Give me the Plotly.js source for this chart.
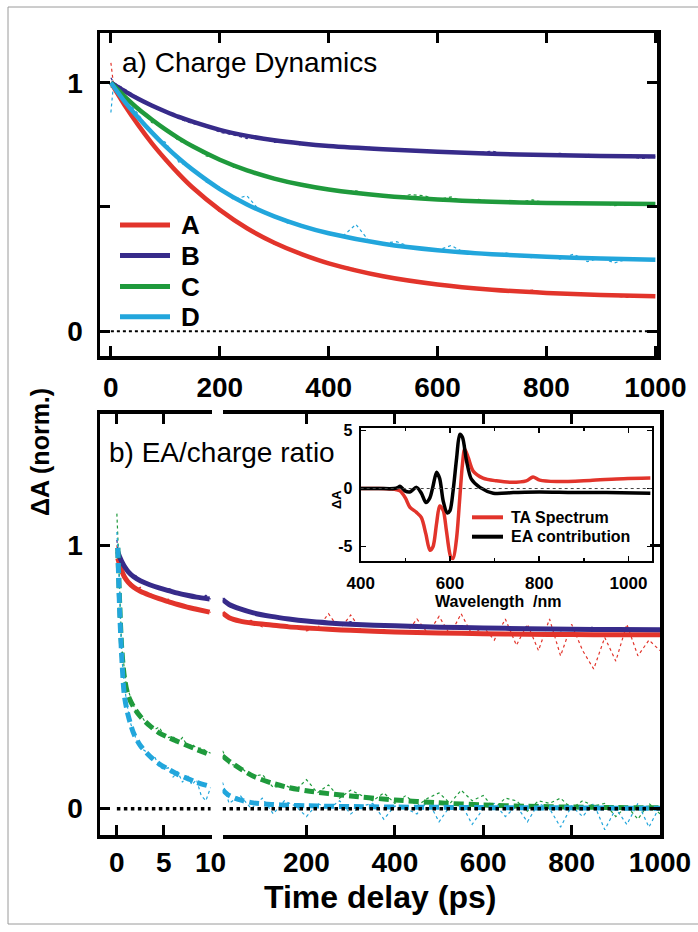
<!DOCTYPE html>
<html><head><meta charset="utf-8">
<script src="https://cdn.plot.ly/plotly-3.0.1.min.js"></script>
<style>html,body{margin:0;padding:0;background:#fff;} #chart{width:698px;height:932px;}</style>
</head><body><div id="chart"></div>
<script>
// ---------- Panel a) Charge Dynamics ----------
const tFitTop = [0,25,50,75,100,125,150,200,250,300,350,400,500,600,700,800,900,1000];
const fitA = [1,0.91,0.83,0.757,0.692,0.632,0.578,0.488,0.414,0.356,0.31,0.273,0.221,0.188,0.167,0.154,0.146,0.14];
const fitB = [1,0.966,0.935,0.908,0.884,0.862,0.843,0.81,0.786,0.768,0.755,0.745,0.732,0.722,0.714,0.709,0.705,0.703];
const fitC = [1,0.945,0.895,0.852,0.812,0.776,0.744,0.69,0.647,0.614,0.589,0.57,0.545,0.53,0.521,0.516,0.514,0.512];
const fitD = [1,0.925,0.86,0.80,0.745,0.695,0.65,0.572,0.51,0.462,0.424,0.394,0.352,0.326,0.31,0.299,0.292,0.287];

const tDataTop = [0,5,25,50,75,100,125,150,175,200,225,250,275,300,325,350,375,400,425,450,475,500,525,550,575,600,625,650,675,700,725,750,775,800,825,850,875,900,925,950,975,1000];
const dataA = [1.08,0.99,0.915,0.825,0.76,0.685,0.64,0.57,0.535,0.48,0.455,0.41,0.385,0.35,0.335,0.305,0.295,0.27,0.262,0.25,0.23,0.225,0.21,0.205,0.193,0.19,0.18,0.178,0.17,0.168,0.162,0.16,0.165,0.153,0.15,0.152,0.146,0.147,0.14,0.136,0.142,0.14];
const dataB = [1.02,1.0,0.975,0.94,0.905,0.885,0.855,0.835,0.83,0.80,0.79,0.775,0.78,0.76,0.765,0.748,0.752,0.742,0.745,0.735,0.74,0.728,0.735,0.726,0.73,0.718,0.725,0.716,0.718,0.725,0.71,0.714,0.71,0.712,0.716,0.705,0.712,0.705,0.704,0.703,0.695,0.702];
const dataC = [0.98,1.0,0.935,0.9,0.84,0.815,0.765,0.75,0.705,0.695,0.66,0.65,0.625,0.618,0.595,0.59,0.58,0.572,0.56,0.565,0.548,0.548,0.535,0.55,0.545,0.53,0.54,0.52,0.53,0.52,0.525,0.52,0.528,0.515,0.52,0.512,0.51,0.518,0.505,0.513,0.515,0.51];
const dataD = [0.88,1.0,0.935,0.875,0.79,0.76,0.68,0.655,0.6,0.58,0.53,0.545,0.48,0.46,0.435,0.43,0.405,0.40,0.38,0.43,0.36,0.355,0.36,0.34,0.335,0.325,0.345,0.315,0.31,0.305,0.315,0.30,0.296,0.3,0.29,0.31,0.28,0.295,0.275,0.29,0.285,0.287];

// ---------- Panel b) EA/charge ratio : 0-10 ps segment ----------
const tFitL = [0.1,0.3,0.5,0.8,1.2,1.8,2.5,3.5,4.5,5.5,6.5,7.5,8.5,9.9];
const rFitA_L = [0.95,0.925,0.905,0.88,0.86,0.84,0.825,0.81,0.797,0.786,0.775,0.765,0.757,0.746];
const rFitB_L = [0.975,0.955,0.94,0.92,0.9,0.88,0.865,0.85,0.838,0.828,0.818,0.81,0.803,0.796];
const rFitC_L = [0.99,0.78,0.62,0.50,0.43,0.385,0.35,0.315,0.288,0.27,0.255,0.24,0.225,0.205];
const rFitD_L = [0.99,0.75,0.59,0.43,0.355,0.285,0.24,0.2,0.17,0.15,0.13,0.115,0.1,0.085];

const tDataL = [0,0.2,0.5,1,1.5,2,2.5,3,3.5,4,4.5,5,5.5,6,6.5,7,7.5,8,8.5,9,9.5,10];
const rDataA_L = [1.0,0.93,0.9,0.87,0.86,0.83,0.84,0.81,0.82,0.80,0.80,0.79,0.795,0.78,0.78,0.765,0.77,0.76,0.758,0.755,0.75,0.745];
const rDataB_L = [1.02,0.96,0.94,0.91,0.89,0.885,0.87,0.855,0.85,0.845,0.83,0.835,0.825,0.82,0.815,0.815,0.805,0.81,0.80,0.80,0.81,0.795];
const rDataC_L = [1.12,0.95,0.62,0.47,0.42,0.37,0.36,0.33,0.32,0.3,0.31,0.28,0.27,0.275,0.25,0.27,0.24,0.245,0.23,0.23,0.22,0.21];
const rDataD_L = [1.05,0.92,0.58,0.41,0.32,0.27,0.23,0.22,0.19,0.2,0.16,0.15,0.155,0.12,0.14,0.1,0.13,0.09,0.11,0.05,0.03,0.08];

// ---------- Panel b) : 10-1000 ps segment ----------
const tFitR = [10,25,50,80,120,160,200,250,300,400,500,600,700,800,900,1000];
const rFitA_R = [0.743,0.725,0.712,0.704,0.697,0.69,0.686,0.681,0.677,0.671,0.667,0.664,0.662,0.661,0.66,0.66];
const rFitB_R = [0.794,0.775,0.758,0.743,0.73,0.72,0.712,0.705,0.70,0.694,0.689,0.686,0.683,0.681,0.68,0.679];
const rFitC_R = [0.2,0.18,0.152,0.123,0.098,0.08,0.068,0.057,0.048,0.033,0.022,0.014,0.009,0.006,0.004,0.003];
const rFitD_R = [0.072,0.05,0.033,0.022,0.016,0.013,0.011,0.009,0.008,0.006,0.005,0.004,0.003,0.003,0.002,0.002];

const tDataR = [10,25,50,75,100,125,150,175,200,225,250,275,300,325,350,375,400,425,450,475,500,525,550,575,600,625,650,675,700,725,750,775,800,825,850,875,900,925,950,975,1000];
const rDataA_R = [0.745,0.72,0.71,0.715,0.69,0.70,0.69,0.695,0.675,0.685,0.74,0.68,0.735,0.675,0.675,0.68,0.67,0.665,0.72,0.665,0.73,0.66,0.74,0.66,0.69,0.64,0.72,0.62,0.70,0.60,0.72,0.58,0.70,0.60,0.53,0.65,0.56,0.70,0.58,0.64,0.60];
const rDataB_R = [0.80,0.775,0.76,0.74,0.735,0.725,0.72,0.715,0.71,0.71,0.705,0.70,0.71,0.695,0.70,0.69,0.695,0.69,0.70,0.685,0.69,0.695,0.685,0.69,0.68,0.69,0.685,0.68,0.69,0.68,0.685,0.675,0.685,0.68,0.69,0.675,0.68,0.685,0.68,0.675,0.68];
const rDataC_R = [0.22,0.17,0.16,0.12,0.13,0.08,0.09,0.07,0.11,0.06,0.09,0.04,0.07,0.05,0.03,0.06,0.02,0.05,0.01,0.04,0.06,0.02,0.07,0.03,0.05,0.0,0.04,0.03,-0.01,0.03,0.02,0.04,0.0,0.03,0.01,0.02,-0.03,0.01,-0.04,0.02,-0.02];
const rDataD_R = [0.10,0.02,0.05,0.0,0.04,-0.02,0.03,0.01,-0.03,0.02,0.0,0.03,-0.02,0.01,0.02,-0.04,0.01,0.0,-0.02,0.03,-0.05,0.01,0.02,-0.06,0.0,0.02,-0.03,0.01,-0.05,0.02,0.0,-0.07,0.01,-0.03,0.02,-0.08,0.0,-0.06,0.02,-0.07,0.01];

// ---------- Inset spectra ----------
const wlTA = [400,440,470,480,488,500,510,525,536,546,555,562,570,577,585,592,602,607,615,622,628,633,641,652,674,704,734,771,786,801,839,914,989,1049];
const taSpec = [0,0,-0.05,-0.1,-0.2,-0.8,-1.6,-2.05,-2.5,-3.9,-5.3,-5.0,-3.0,-1.5,-1.9,-3.6,-5.9,-6.0,-4.2,-0.8,2.1,3.4,2.65,1.5,0.9,0.66,0.54,0.66,1.0,0.72,0.6,0.7,0.85,0.9];
const wlEA = [400,440,475,484,488,499,510,525,536,546,555,562,570,577,585,594,600,607,615,622,628,637,648,667,697,742,800,877,950,1049];
const eaSpec = [0,0,0,0.1,0.2,-0.2,-0.3,0.1,-0.4,-1.2,-0.8,0.2,1.4,0.85,-1.1,-2.1,-1.9,-0.2,2.65,4.65,4.4,2.4,0.8,0.1,-0.4,-0.35,-0.3,-0.35,-0.35,-0.4];

const seriesNames = ['A','B','C','D'];
const topTicks = [0,200,400,600,800,1000];
const legendTA = ['TA Spectrum','EA contribution'];

// ---------- build ----------
const W=698,H=932;
const PX=v=>v/W, PY=v=>1-v/H;
const FONT='Liberation Sans, Arial, Helvetica, sans-serif';
const COL={A:'#e2342b',B:'#372b8a',C:'#1f9a3c',D:'#22a6dc'};

const traces=[];
function dotted(x,y,c,xa,ya){traces.push({x,y,xaxis:xa,yaxis:ya,mode:'lines',line:{color:c,width:1.2,dash:'dot'},hoverinfo:'skip',showlegend:false});}
function fit(x,y,c,xa,ya,w,dash){traces.push({x,y,xaxis:xa,yaxis:ya,mode:'lines',line:{color:c,width:w,shape:'spline',smoothing:0.8,dash:dash||'solid'},hoverinfo:'skip',showlegend:false});}

// top
[[dataA,'A'],[dataB,'B'],[dataC,'C'],[dataD,'D']].forEach(([d,k])=>dotted(tDataTop,d,COL[k],'x','y'));
[[fitA,'A'],[fitB,'B'],[fitC,'C'],[fitD,'D']].forEach(([d,k])=>fit(tFitTop,d,COL[k],'x','y',4.5));
// bottom left
[[rDataA_L,'A'],[rDataB_L,'B'],[rDataC_L,'C'],[rDataD_L,'D']].forEach(([d,k])=>dotted(tDataL,d,COL[k],'x2','y2'));
fit(tFitL,rFitA_L,COL.A,'x2','y2',5); fit(tFitL,rFitB_L,COL.B,'x2','y2',5);
fit(tFitL,rFitC_L,COL.C,'x2','y2',5,'10px,5px'); fit(tFitL,rFitD_L,COL.D,'x2','y2',5,'10px,5px');
// bottom right
[[rDataA_R,'A'],[rDataB_R,'B'],[rDataC_R,'C'],[rDataD_R,'D']].forEach(([d,k])=>dotted(tDataR,d,COL[k],'x3','y3'));
fit(tFitR,rFitA_R,COL.A,'x3','y3',5); fit(tFitR,rFitB_R,COL.B,'x3','y3',5);
fit(tFitR,rFitC_R,COL.C,'x3','y3',5,'10px,5px'); fit(tFitR,rFitD_R,COL.D,'x3','y3',5,'10px,5px');
// inset
fit(wlTA,taSpec,'#e2342b','x4','y4',3.5);
fit(wlEA,eaSpec,'#000000','x4','y4',3.5);

function ax(o){return Object.assign({showline:true,linecolor:'#000',linewidth:3.5,ticks:'inside',ticklen:10,tickwidth:3,tickcolor:'#000',showgrid:false,zeroline:false,fixedrange:true,
  tickfont:{family:FONT,size:28,color:'#000',weight:'bold'}},o);}

const layout={
  width:W,height:H,margin:{l:0,r:0,t:0,b:0},paper_bgcolor:'#fff',plot_bgcolor:'rgba(0,0,0,0)',showlegend:false,
  xaxis:ax({domain:[PX(100),PX(657)],anchor:'y',range:[-20,1003],tickvals:topTicks,mirror:'ticks',ticklabelstandoff:4}),
  yaxis:ax({domain:[PY(356),PY(33)],anchor:'x',range:[-0.1,1.2],tickvals:[0,0.5,1],ticktext:['0','','1'],mirror:'ticks',ticklabelstandoff:8}),
  xaxis2:ax({domain:[PX(100),PX(211.5)],anchor:'y2',range:[-1.8,10.1],tickvals:[0,5,10],mirror:'ticks',ticklabelstandoff:0}),
  yaxis2:ax({domain:[PY(835),PY(413.5)],anchor:'x2',range:[-0.1,1.5],tickvals:[0,1],ticklabelstandoff:8}),
  xaxis3:ax({domain:[PX(222.5),PX(660)],anchor:'y3',range:[10,1000],tickvals:[200,400,600,800,1000],mirror:'ticks',ticklabelstandoff:0}),
  yaxis3:ax({domain:[PY(835),PY(413.5)],anchor:'x3',side:'right',range:[-0.1,1.5],tickvals:[0,1],showticklabels:false}),
  xaxis4:ax({domain:[PX(360.7),PX(651.7)],anchor:'y4',range:[400,1052],tickvals:[400,600,800,1000],mirror:'ticks',linewidth:2,ticklen:5,tickwidth:1.5,
     minor:{tickvals:[500,700,900],ticks:'inside',ticklen:3,tickwidth:1.5,tickcolor:'#000'},tickfont:{family:FONT,size:17,color:'#000',weight:'bold'},ticklabelstandoff:6}),
  yaxis4:ax({domain:[PY(560.7),PY(428)],anchor:'x4',range:[-6.2,5.2],tickvals:[-5,0,5],ticktext:['-5','0','5'],mirror:'ticks',linewidth:2,ticklen:5,tickwidth:1.5,
     tickfont:{family:FONT,size:16,color:'#000',weight:'bold'},ticklabelstandoff:3}),
  shapes:[
    {type:'line',xref:'x',yref:'y',x0:0,x1:1000,y0:0,y1:0,line:{color:'#000',width:2,dash:'dot'}},
    {type:'line',xref:'x2',yref:'y2',x0:0,x1:10,y0:0,y1:0,line:{color:'#000',width:3.5,dash:'dot'}},
    {type:'line',xref:'x3',yref:'y3',x0:10,x1:1000,y0:0,y1:0,line:{color:'#000',width:3.5,dash:'dot'}},
    {type:'line',xref:'x4',yref:'y4',x0:400,x1:1052,y0:0,y1:0,line:{color:'#444',width:1,dash:'dot'}},
    {type:'rect',xref:'paper',yref:'paper',x0:PX(8),x1:PX(710),y0:PY(924),y1:PY(7),line:{color:'#9a9a9a',width:1}},
  ],
  annotations:[]
};
const ann=(text,x,y,o)=>layout.annotations.push(Object.assign({text,x:PX(x),y:PY(y),xref:'paper',yref:'paper',showarrow:false,xanchor:'left',yanchor:'middle',
   font:{family:FONT,size:28,color:'#000'}},o||{}));
// legend (top panel)
const legY=[225,255.5,286.5,316.7];
seriesNames.forEach((n,i)=>{
  layout.shapes.push({type:'line',xref:'paper',yref:'paper',x0:PX(120),x1:PX(170),y0:PY(legY[i]),y1:PY(legY[i]),line:{color:COL[n],width:5}});
  ann(n,179,legY[i],{font:{family:FONT,size:26,color:'#000',weight:'bold'}});
});
// legend (inset)
const insY=[517.3,536.7], insC=['#e2342b','#000000'];
legendTA.forEach((n,i)=>{
  layout.shapes.push({type:'line',xref:'paper',yref:'paper',x0:PX(472),x1:PX(503),y0:PY(insY[i]),y1:PY(insY[i]),line:{color:insC[i],width:4}});
  ann(n,509,insY[i],{font:{family:FONT,size:16,color:'#000',weight:'bold'}});
});
ann('a) Charge Dynamics',120,62);
ann('b) EA/charge ratio',107,452);
ann('\u0394A',337,500,{xanchor:'center',textangle:-90,font:{family:FONT,size:13,color:'#000',weight:'bold'}});
ann('Wavelength\u00a0 /nm',498,601,{xanchor:'center',font:{family:FONT,size:16,color:'#000',weight:'bold'}});
ann('Time delay (ps)',380,897,{xanchor:'center',font:{family:FONT,size:32,color:'#000',weight:'bold'}});
ann('\u0394A (norm.)',40,452,{xanchor:'center',textangle:-90,font:{family:FONT,size:25,color:'#000',weight:'bold'}});

Plotly.newPlot('chart',traces,layout,{staticPlot:true,displayModeBar:false});
</script></body></html>
